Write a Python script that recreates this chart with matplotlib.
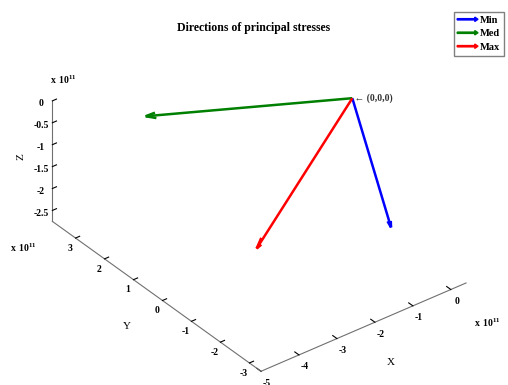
import numpy as np
import matplotlib.pyplot as plt
import matplotlib.patches as mpatches
from matplotlib.legend_handler import HandlerPatch

plt.rcParams['font.family'] = ['Liberation Serif', 'DejaVu Serif']
plt.rcParams['font.weight'] = 'bold'
plt.rcParams['axes.unicode_minus'] = False
plt.rcParams['mathtext.fontset'] = 'custom'
plt.rcParams['mathtext.rm'] = 'Liberation Serif:bold'

scale = 1e11
names = ['Min', 'Med', 'Max']
colors = ['#0000ff', '#008000', '#ff0000']
# end points of the three principal directions, all start at (0,0,0)
vx = [0.47e11, -2.58e11, -5.0e11]
vy = [-0.72e11, 3.75e11, -3.25e11]
vz = [-2.78e11, -1.23e11, -0.02e11]

xticks = [-5, -4, -3, -2, -1, 0]
yticks = [-3, -2, -1, 0, 1, 2, 3]
zticks = [-2.5, -2, -1.5, -1, -0.5, 0]
zticklabels = ['-2.5', '-2', '-1.5', '-1', '-0.5', '0']

fig = plt.figure(figsize=(5.08, 3.85), dpi=100)
ax = fig.add_axes([0, -0.012, 1, 1], projection='3d', proj_type='ortho')
ax.view_init(elev=33.8, azim=-127.75)
ax.set_box_aspect((261, 343, 146), zoom=1.14)

for i in range(3):
    ax.quiver(0, 0, 0, vx[i] / scale, vy[i] / scale, vz[i] / scale,
              color=colors[i], linewidth=1.8, arrow_length_ratio=0.05)

ax.set_xlim(-5.0, 0.4)
ax.set_ylim(-3.4, 3.8)
ax.set_zlim(-2.75, 0)
ax.set_xticks(xticks)
ax.set_yticks(yticks)
ax.set_zticks(zticks)
ax.set_zticklabels(zticklabels)

ax.grid(False)
for axis in (ax.xaxis, ax.yaxis, ax.zaxis):
    axis.pane.fill = False
    axis.pane.set_edgecolor((1, 1, 1, 0))
    axis.line.set_color('#707070')
    axis.line.set_linewidth(0.8)
    axis._axinfo['tick']['inward_factor'] = 0.0
    axis._axinfo['tick']['outward_factor'] = 0.25
    axis._axinfo['tick']['color'] = '#707070'
ax.tick_params(labelsize=7, pad=-4)

ax.zaxis.set_rotate_label(False)
ax.set_xlabel('X', fontsize=8, labelpad=-2)
ax.set_ylabel('Y', fontsize=8, labelpad=0)
ax.set_zlabel('Z', fontsize=8, labelpad=-10, rotation=90)

ax.text(0, 0, 0, ' \u2190 (0,0,0)', fontsize=7, ha='left', va='center', color='#333333')

fig.text(0.5, 1 - 28 / 385, 'Directions of principal stresses', ha='center', va='center', fontsize=8.5)

# axis multipliers
fig.text(50 / 508, 1 - 80 / 385, r'$\mathrm{x\ 10^{11}}$', fontsize=7, ha='left', va='center')
fig.text(10 / 508, 1 - 248 / 385, r'$\mathrm{x\ 10^{11}}$', fontsize=7, ha='left', va='center')
fig.text(474 / 508, 1 - 323 / 385, r'$\mathrm{x\ 10^{11}}$', fontsize=7, ha='left', va='center')

def make_arrow(legend, orig_handle, xdescent, ydescent, width, height, fontsize):
    return mpatches.FancyArrow(0, 0.5 * height, width, 0, length_includes_head=True,
                               width=0.18 * height, head_width=0.6 * height, head_length=0.45 * height)

handles = [mpatches.FancyArrow(0, 0, 1, 0, color=c) for c in colors]
leg = fig.legend(handles, names, loc='upper right', bbox_to_anchor=(504 / 508, 1 - 12 / 385),
                 handler_map={mpatches.FancyArrow: HandlerPatch(patch_func=make_arrow)},
                 fontsize=7.5, fancybox=False, framealpha=1, edgecolor='#808080',
                 handlelength=2.0, handletextpad=0.2, labelspacing=0.4, borderpad=0.35,
                 borderaxespad=0)

fig.savefig('out.png', dpi=100)
